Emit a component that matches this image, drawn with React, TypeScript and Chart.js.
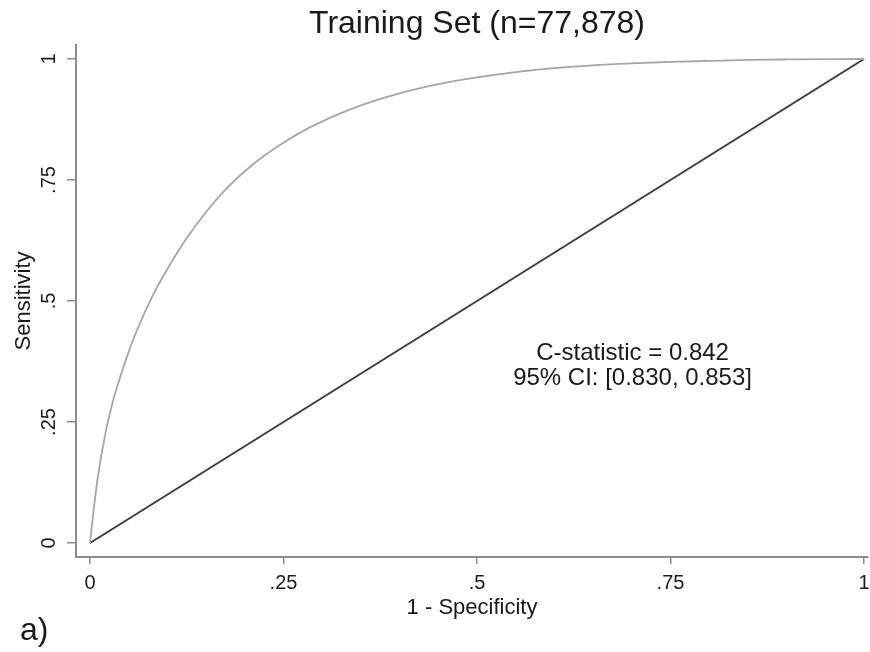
import React, { useEffect, useRef } from "react";
import { Chart, registerables } from "chart.js";

Chart.register(...registerables);

// ROC curve (1 - specificity, sensitivity)
const FPR = [0, 0.005, 0.01, 0.02, 0.03, 0.04, 0.05, 0.06, 0.08, 0.1, 0.125, 0.15, 0.175, 0.2, 0.225, 0.25, 0.275, 0.3, 0.35, 0.4, 0.45, 0.5, 0.55, 0.6, 0.65, 0.7, 0.75, 0.8, 0.85, 0.9, 1];
const TPR = [0, 0.072, 0.135, 0.227, 0.295, 0.348, 0.395, 0.437, 0.508, 0.566, 0.63, 0.684, 0.73, 0.768, 0.8, 0.827, 0.851, 0.871, 0.904, 0.929, 0.948, 0.962, 0.973, 0.981, 0.987, 0.991, 0.994, 0.996, 0.998, 0.999, 1];

// Reference (chance) line
const REF_X = [0, 1];
const REF_Y = [0, 1];

const TICK_VALUES = [0, 0.25, 0.5, 0.75, 1];
const TICK_LABELS = ["0", ".25", ".5", ".75", "1"];

const X_MIN = -0.0181;
const X_MAX = 1.0052;
const Y_MIN = -0.0289;
const Y_MAX = 1.0289;

const TITLE = "Training Set (n=77,878)";
const X_TITLE = "1 - Specificity";
const Y_TITLE = "Sensitivity";
const ANNOTATION_LINES = ["C-statistic = 0.842", "95% CI: [0.830, 0.853]"];
const ANNOTATION_X = 0.701;
const ANNOTATION_Y = [0.378, 0.326];
const PANEL_LABEL = "a)";

const FONT = '"Liberation Sans", Arial, sans-serif';
const TEXT_COLOR = "#1a1a1a";
const AXIS_COLOR = "#8c8c8c";

const tickLabel = (v: number | string) => {
  const i = TICK_VALUES.indexOf(Number(v));
  return i >= 0 ? TICK_LABELS[i] : "";
};

const textPlugin = {
  id: "extraTexts",
  afterDraw(chart: any) {
    const ctx = chart.ctx;
    const xs = chart.scales.x;
    const ys = chart.scales.y;
    ctx.save();
    ctx.fillStyle = TEXT_COLOR;
    ctx.textAlign = "center";
    ctx.textBaseline = "alphabetic";
    ctx.font = `32px ${FONT}`;
    ctx.fillText(TITLE, xs.getPixelForValue(0.5), 33);
    ctx.font = `24px ${FONT}`;
    ANNOTATION_LINES.forEach((t, i) => {
      ctx.fillText(t, xs.getPixelForValue(ANNOTATION_X), ys.getPixelForValue(ANNOTATION_Y[i]));
    });
    ctx.textAlign = "left";
    ctx.font = `32px ${FONT}`;
    ctx.fillText(PANEL_LABEL, 20, 640);
    ctx.restore();
  },
};

export default function App() {
  const ref = useRef<HTMLCanvasElement | null>(null);

  useEffect(() => {
    if (!ref.current) return;
    const chart = new Chart(ref.current, {
      type: "scatter",
      data: {
        datasets: [
          {
            label: "ROC",
            data: FPR.map((x, i) => ({ x, y: TPR[i] })),
            showLine: true,
            borderColor: "#a6a6a6",
            borderWidth: 1.8,
            pointRadius: 0,
            cubicInterpolationMode: "monotone",
          },
          {
            label: "Reference",
            data: REF_X.map((x, i) => ({ x, y: REF_Y[i] })),
            showLine: true,
            borderColor: "#3c3c3c",
            borderWidth: 2,
            pointRadius: 0,
          },
        ],
      },
      options: {
        animation: false,
        responsive: false,
        devicePixelRatio: 1,
        layout: { padding: { top: 45, right: 2, bottom: 0, left: 0 } },
        plugins: {
          legend: { display: false },
          tooltip: { enabled: false },
          title: { display: false },
        },
        scales: {
          x: {
            type: "linear",
            min: X_MIN,
            max: X_MAX,
            afterBuildTicks: (s: any) => {
              s.ticks = TICK_VALUES.map((v) => ({ value: v }));
            },
            afterFit: (s: any) => {
              s.height = 95;
              s.paddingLeft = 0;
              s.paddingRight = 0;
            },
            ticks: {
              callback: (v: any) => tickLabel(v),
              autoSkip: false,
              maxRotation: 0,
              minRotation: 0,
              padding: 7,
              color: TEXT_COLOR,
              font: { family: FONT, size: 20 },
            },
            grid: {
              display: true,
              drawOnChartArea: false,
              drawTicks: true,
              tickLength: 7,
              color: AXIS_COLOR,
              lineWidth: 1.5,
            },
            border: { display: true, color: AXIS_COLOR, width: 2 },
            title: {
              display: true,
              text: X_TITLE,
              color: TEXT_COLOR,
              font: { family: FONT, size: 22 },
              padding: { top: 0, bottom: 31 },
            },
          },
          y: {
            type: "linear",
            min: Y_MIN,
            max: Y_MAX,
            afterBuildTicks: (s: any) => {
              s.ticks = TICK_VALUES.map((v) => ({ value: v }));
            },
            afterFit: (s: any) => {
              s.width = 76;
              s.paddingTop = 0;
              s.paddingBottom = 0;
            },
            ticks: {
              callback: (v: any) => tickLabel(v),
              autoSkip: false,
              minRotation: 90,
              maxRotation: 90,
              crossAlign: "center",
              padding: 4,
              color: TEXT_COLOR,
              font: { family: FONT, size: 20 },
            },
            grid: {
              display: true,
              drawOnChartArea: false,
              drawTicks: true,
              tickLength: 9,
              color: AXIS_COLOR,
              lineWidth: 1.5,
            },
            border: { display: true, color: AXIS_COLOR, width: 2 },
            title: {
              display: true,
              text: Y_TITLE,
              color: TEXT_COLOR,
              font: { family: FONT, size: 22 },
              padding: { top: 11, bottom: 0 },
            },
          },
        },
      },
      plugins: [textPlugin],
    } as any);
    return () => chart.destroy();
  }, []);

  return (
    <div style={{ position: "fixed", left: 0, top: 0, width: 870, height: 652, background: "#fff" }}>
      <canvas ref={ref} width={870} height={652} style={{ display: "block" }} />
    </div>
  );
}
